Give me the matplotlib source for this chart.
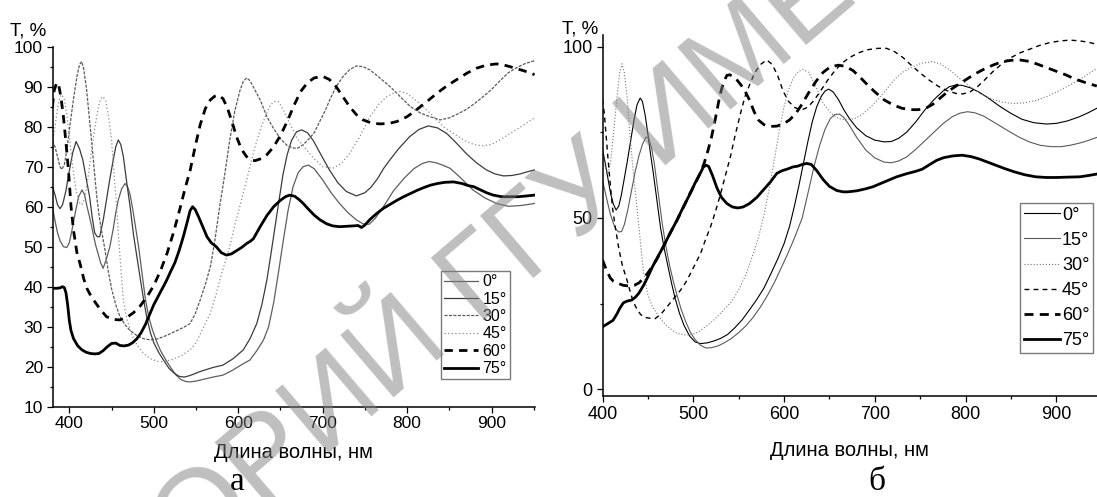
import matplotlib
matplotlib.use("Agg")
import matplotlib.pyplot as plt
from matplotlib.ticker import MultipleLocator, FixedLocator

plt.rcParams['font.family'] = ['Liberation Sans', 'DejaVu Sans']
plt.rcParams['lines.scale_dashes'] = False

# ---------------- data: panel a ----------------
angles = ["0°", "15°", "30°", "45°", "60°", "75°"]

a_0 = [(380,60),(383,56.5),(386,53.5),(389,51.5),(393,50),(397,49.8),(400,51),(403,54),(407,58.5),(411,62.5),
       (415,64.2),(418,63),(421,60),(425,56.5),(428,53.5),(431,50.5),(434,48.3),(437,46),(440,44.6),(444,47),
       (448,50),(452,54.5),(455,58.5),(458,61.7),(462,64.5),(466,65.8),(469,65),(472,63),(475,59.5),(478,55.5),
       (482,50),(486,43.5),(490,37),(494,32.5),(498,29.5),(503,26.5),(508,24),(514,21.8),(520,19.8),(526,18),
       (532,16.8),(538,16.3),(543,16.2),(550,16.4),(560,16.9),(570,17.4),(582,17.9),(594,19.2),(604,20.5),(614,21.7),
       (622,24),(630,26.7),(636,30),(642,36),(648,44),(653,51),(659,59),(665,65),(671,68.5),(677,70),
       (683,70.4),(690,69.5),(700,66.7),(710,63.5),(720,60.8),(730,58.5),(740,56.7),(748,55.7),(755,55.6),(762,57),
       (772,60),(784,64),(796,67),(808,69.5),(818,70.8),(826,71.3),(834,71),(842,70.4),(851,69.6),(862,67.5),
       (878,64.2),(892,62.2),(906,60.8),(920,60.1),(935,60.3),(951,60.8)]

a_15 = [(380,65),(383,63),(386,60.5),(389,59.5),(392,60.5),(396,64),(400,69),(404,73.5),(408,76.3),(412,74.5),
        (416,71.7),(420,67),(424,62.5),(427,57.5),(430,53.5),(433,52.5),(436,52.5),(440,56.5),(444,61.7),(448,67),
        (452,71.7),(455,75),(458,76.7),(461,75.5),(464,72.5),(468,66),(472,60),(476,53),(480,47.5),(484,42),
        (488,36.7),(492,32),(496,28.5),(500,26),(506,23.5),(512,21.5),(518,19.6),(524,18.4),(530,17.6),(536,17.4),
        (543,17.8),(555,18.8),(570,19.8),(582,20.4),(594,22),(606,24.2),(614,27),(622,30.8),(628,35.5),(634,41.7),
        (639,48.5),(644,55.5),(649,62.5),(653,68),(658,73),(663,76.5),(669,78.7),(675,79.2),(682,78.5),(689,76.5),
        (698,73),(708,69.2),(718,66),(728,63.8),(740,62.7),(750,63.5),(757,64.8),(765,67),(772,69.5),(780,71.8),
        (790,74.5),(803,77.5),(814,79.3),(825,80.2),(836,79.7),(847,78.3),(858,76),(870,73.3),(882,71),(894,69.2),
        (904,68.2),(914,67.7),(924,67.8),(934,68.2),(942,68.7),(951,69.2)]

a_30 = [(380,76.5),(383,75),(386,72.5),(389,70),(391,69.3),(394,70.5),(397,74),(401,80.8),(405,87),(409,92.5),
        (412,95.5),(414.6,96.3),(417,94.5),(420.5,89.2),(424,81.5),(427,75),(430,68),(433,61.5),(436,56.7),(439,53),
        (442,49.5),(446,44),(450,39.5),(455,35.5),(460,32.5),(466,30.5),(472,29),(480,27.8),(488,27),(496,26.7),
        (505,27),(515,27.8),(525,28.8),(535,29.8),(543,30.8),(549,33.2),(555,36.7),(561,40.5),(567,45),(572,51),
        (578,60),(584,68),(590,76.7),(596,84),(602,89),(606,91.3),(610,92.2),(614,91.5),(619,89.5),(626,86.7),
        (634,82.5),(642,79.5),(650,77),(658,75.3),(664,74.7),(670,74.6),(677,75.5),(684,77),(690,78.5),(697,81.5),
        (703,84),(709,87),(716,90),(724,92.5),(732,94.3),(740,95.2),(748,95),(756,94.2),(766,92.5),(780,90),
        (792,87.5),(804,85),(816,83.4),(827,82.5),(839,81.7),(850,82.2),(860,83.2),(870,84.3),(880,85.8),(890,87.5),
        (900,89.3),(910,91.5),(920,93.5),(930,94.8),(940,95.8),(951,96.5)]

a_45 = [(380,76),(383,80),(386,84.5),(389,87.5),(391,88),(394,87),(397,83),(400,77.5),(404,70),(408,64),
        (412,61),(415,60.5),(418,62),(422,67),(426,73.5),(430,79.5),(434,84.5),(437,87),(440,87.5),(443,86.5),
        (446,83),(450,76.7),(453,68),(456,60),(458,53.5),(460,47.5),(462,42),(464,36.7),(468,32),(474,28),
        (480,25.5),(488,23.3),(496,22),(505,21.3),(513,21.3),(522,21.8),(533,22.8),(543,24.2),(550,26),(557,29),
        (563,31.7),(567,33.3),(573,37.5),(580,43),(585,46.5),(590,50),(596,55.5),(603,61),(610,66.7),(618,73.5),
        (626,79.2),(632,82.5),(638,85.4),(643,86.3),(648,86.2),(654,84),(661,80.8),(670,77),(681,74.2),(690,72),
        (700,70),(712,69.6),(722,70.8),(732,73.3),(744,77.5),(756,82.5),(766,85.5),(776,87.5),(784,88.4),(792,88.8),
        (800,88.3),(815,85.8),(830,82.8),(843,80),(857,78),(870,76.3),(880,75.5),(890,75.2),(900,75.6),(910,76.7),
        (922,78.3),(935,80),(944,81.3),(951,82.2)]

a_60 = [(380,85),(382,89),(385,91),(387,90.8),(390,87.5),(393,82.5),(396,76),(399,69),(402,60),(405,54),
        (409,48.5),(413,45.5),(417,42),(421,39.5),(426,37.5),(431,36),(436,34.5),(444,32.5),(452,31.8),(460,31.7),
        (468,32.3),(476,33.5),(484,35.2),(492,37.5),(500,40.3),(508,44),(516,48.5),(524,54),(531,59.5),(537,64.5),
        (543,69),(549,75),(555,80.5),(561,84.5),(567,86.7),(572,87.6),(577,87.9),(582,87),(587,84.8),(593,81),
        (598,77.5),(604,74.3),(610,72.5),(615,71.7),(620,71.5),(627,72),(634,73),(642,75),(650,77.8),(658,81.3),
        (666,85.3),(674,88.8),(682,91),(690,92.2),(700,92.6),(708,91.8),(716,90),(724,87.5),(732,85),(740,83),
        (748,81.7),(758,80.9),(768,80.7),(778,80.8),(788,81.3),(800,82.5),(811,84.2),(823,86.2),(835,88.3),(847,90.2),
        (859,91.8),(871,93.4),(882,94.6),(894,95.4),(906,95.7),(915,95.4),(922,95),(930,94.5),(938,94),(945,93.5),
        (951,93)]

a_75 = [(380,39.6),(385,39.6),(389,39.7),(392,40),(394,39.8),(396,38.5),(398,35.5),(400,31.5),(402,29),(405,27),
        (410,25.2),(415,24.2),(420,23.6),(425,23.3),(430,23.2),(435,23.3),(440,24),(445,25),(450,25.8),(455,25.9),
        (460,25.3),(465,25.2),(470,25.4),(475,26),(480,27),(485,28.5),(490,30.5),(495,33),(500,35.5),(505,37.5),
        (510,39.5),(515,41.5),(520,43.8),(525,46),(530,49),(535,52.5),(540,56.5),(543,59),(546,60),(549,59.3),
        (553,57.5),(558,55),(563,52.5),(568,51),(574,50),(580,48.5),(586,47.9),(592,48.2),(598,49),(604,49.8),
        (610,50.8),(614,51.3),(618,52),(622,53.5),(626,55),(634,57.8),(642,60),(650,61.6),(656,62.5),(661,62.9),
        (667,62.6),(672,61.8),(677,60.8),(684,59.2),(690,57.9),(697,56.7),(705,55.7),(712,55.2),(720,55),(728,55.1),
        (736,55.2),(742,55.3),(746,54.8),(750,55.4),(756,56.8),(764,58.3),(772,59.6),(780,60.6),(788,61.6),(796,62.5),
        (804,63.3),(812,64.1),(820,64.8),(828,65.4),(836,65.8),(845,66.1),(855,66.2),(865,65.8),(872,65.3),(879,65),
        (886,64.3),(894,63.5),(902,62.9),(912,62.5),(922,62.5),(932,62.5),(942,62.7),(951,62.9)]

# ---------------- data: panel b ----------------
b_0 = [(400,70),(403,66),(406,61.5),(409,57),(412,54),(415,52.3),(418,53.5),(421,57),(424,61.5),(427,66),
       (431,72.5),(435,79),(438,83),(441.5,85),(444,84),(447,80),(450,74.5),(453,68.5),(456,63),(460,55),
       (464,47),(468,41),(472,36),(476,31),(480,26.5),(485,22),(490,18.5),(496,15.5),(502,13.8),(508,13.3),
       (515,13.5),(522,14),(530,14.8),(538,16),(546,18),(554,20.3),(562,23.2),(570,26.2),(578,29.6),(586,34),
       (593,38),(600,42.5),(606,47.5),(611,53),(616,59),(621,65.5),(626,72),(631,78),(636,82.5),(641,85.5),
       (645,87),(649,87.6),(654,86.8),(660,84.5),(666,81.5),(672,79),(680,76.3),(690,74),(700,72.7),(710,72.2),
       (718,72.3),(726,73.2),(735,75),(745,78),(755,81.5),(765,84.5),(775,87),(782,88.3),(789,88.8),(796,88.7),
       (805,88),(815,86.7),(825,85),(838,82.5),(850,80.5),(862,78.8),(875,77.8),(889,77.4),(900,77.6),(912,78.3),
       (925,79.5),(935,80.7),(944.5,82)]

b_15 = [(400,61),(403,57.5),(406,54),(409,50.8),(412,48.4),(415,46.6),(418,45.9),(421,46),(424,48),(428,52.5),
        (432,58),(436,63.5),(440,68),(444,71.5),(448,73.6),(451,73.2),(454,70.5),(457,66),(460,60),(463,54),
        (466,48),(470,41.5),(474,36),(478,31.5),(482,27.5),(487,23),(492,19.5),(497,16.5),(502,14.5),(508,12.8),
        (514,12),(520,12.1),(527,12.6),(534,13.5),(542,14.8),(550,16.5),(558,18.5),(566,21),(574,24),(582,27.5),
        (590,31.5),(597,35.5),(604,39.5),(612,44.5),(620,50),(627,58),(633,65),(639,71),(645,75.8),(651,79),
        (656,80.2),(661,80.3),(666,79.3),(672,77),(680,73.5),(690,69.8),(700,67.5),(710,66.3),(718,66.1),(726,66.6),
        (735,67.8),(745,70),(755,72.5),(765,75),(775,77.5),(785,79.5),(794,80.6),(802,81),(810,80.7),(820,79.7),
        (832,77.8),(845,75.7),(858,73.7),(870,72.2),(882,71.2),(894,70.8),(905,70.8),(915,71.2),(925,71.8),(935,72.6),
        (944.5,73.5)]

b_30 = [(400,69),(403,65),(406,63),(409,66.5),(413,77),(417,88),(419,92.5),(421.5,95),(424,92.5),(427,85.5),
        (430,75),(434,63),(438,53),(441,45),(445,34.5),(450,27.5),(455,24),(460,22.1),(467,19.5),(474,17.8),
        (482,16.3),(489,15.9),(496,15.8),(505,16.6),(515,18.5),(524,20.5),(533,23),(542,25.5),(550,29),(558,33.5),
        (566,39.5),(572,44.5),(578,51),(584,59),(590,68),(595,76),(600,82.5),(605,87.5),(610,90.8),(616,92.8),
        (621,93.3),(627,92.5),(634,89),(643,83.5),(652,80.5),(660,79),(669,78.6),(678,79),(686,80.2),(694,82),
        (703,84.5),(712,87.3),(722,90.5),(732,92.8),(742,94.2),(752,95.2),(763,95.6),(772,95),(782,93.3),(792,91),
        (804,88.5),(816,86.3),(828,84.8),(840,83.8),(853,83.4),(865,83.6),(878,84.3),(890,85.5),(902,87),(914,88.7),
        (926,90.4),(936,92.2),(944.5,93.6)]

b_45 = [(400,84.5),(402,80.5),(404,74),(406,67.5),(408.5,60),(411,53),(414,47.4),(418,41),(422,36),(427,31.8),
        (431,28),(434,25.5),(438,23.3),(442,21.8),(446,21),(452,20.7),(458,20.6),(464,21.8),(471,24),(478,26.3),
        (486,28.9),(492,31.3),(497,33.8),(503,37),(508,39.6),(513,43.3),(519,47.4),(524,51.5),(529,56),(533,60),
        (537,64),(541,68),(546,74),(552,80.5),(557,85.5),(563,89.5),(568,92.5),(574,94.8),(581,96.1),(587,94.8),
        (593,91.5),(599,87),(605,84),(612,82.2),(619,81.5),(626,82.3),(633,84.3),(640,87),(648,90.2),(656,93),
        (664,95.2),(672,96.8),(682,98.2),(692,99.1),(703,99.5),(713,99.5),(722,98.5),(731,96.8),(740,94.6),(750,92.3),
        (760,90.2),(770,88.4),(780,87.1),(790,86.3),(797,86.2),(805,86.8),(813,88.3),(821,90.3),(830,92.7),(840,95),
        (850,96.8),(860,98.2),(871,99.3),(882,100.4),(893,101.2),(905,101.7),(915,101.9),(925,101.7),(935,101.3),(944.5,100.7)]

b_60 = [(400,37.7),(404,35),(408.5,32.5),(412,31.5),(416,31),(423,30.3),(430,30.1),(435,30.3),(440,31),(446,32.5),
        (452,34.7),(460,38),(467,41.6),(474,45.3),(482,49.3),(489,53),(496,57),(502,60),(507.6,63),(512,66),
        (516,69.5),(520,73.5),(524,78.5),(528,84),(531,87.5),(534,90),(537,91.6),(540,91.8),(544,91.3),(548,90.3),
        (552,89),(556,87.5),(562,84.4),(567,81),(572,78.5),(578,77.2),(585,76.7),(592,76.8),(599,77.4),(606,78.6),
        (613,80.5),(620,83.3),(627,86.5),(635,89.8),(643,92.5),(651,94.1),(660,94.6),(668,94.2),(676,93),(684,91),
        (692,88.8),(700,86.8),(710,84.5),(720,83),(730,82),(740,81.6),(748,81.6),(756,82),(764,83.2),(772,85),
        (780,86.8),(790,88.6),(800,90.3),(810,92),(820,93.4),(830,94.6),(840,95.6),(850,96),(860,96.1),(870,95.7),
        (880,94.8),(890,93.8),(900,92.8),(910,91.8),(920,90.6),(932,89.5),(944.5,88.5)]

b_75 = [(400,18.2),(405,19),(411.6,20.1),(416,22),(419,23.6),(423,25.2),(427,25.7),(432,26),(436,26.8),(440,28),
        (445,30.2),(450,32.8),(455,35.7),(461,38.7),(467,41.6),(474,45.3),(482,49.3),(489,53.2),(496.6,57.1),(502,60.2),
        (507.6,63),(511,64.8),(514,65.4),(517,65),(521,62.5),(526,58.8),(531,56),(537,54.2),(543,53.2),(549,52.9),
        (555,53.2),(562,54.2),(570,56),(577,58.1),(585,60.5),(592,63),(598,63.8),(604,64.3),(610,64.9),(615,65.1),
        (620,65.6),(625,65.9),(630,65.6),(636,63.8),(643,61.2),(650,59.2),(658,58),(665,57.6),(670,57.6),(680,57.9),
        (690,58.5),(698,59.1),(706,60),(715,61),(724,62),(735,62.9),(745,63.6),(752,64.2),(760,65.5),(768,66.8),
        (776,67.6),(786,68.1),(796,68.3),(806,67.9),(815,67.2),(823,66.4),(833,65.4),(843,64.4),(853,63.5),(865,62.6),
        (877,62),(889,61.8),(900,61.8),(912,61.9),(926,62),(936,62.4),(944.5,62.8)]

x_ticks = [400, 500, 600, 700, 800, 900]
a_y_ticks = [10, 20, 30, 40, 50, 60, 70, 80, 90, 100]
b_y_ticks = [0, 50, 100]

# ---------------- styles ----------------
a_styles = [
    dict(color='#5e5e5e', lw=0.9, ls='-'),
    dict(color='#3c3c3c', lw=0.9, ls='-'),
    dict(color='#5a5a5a', lw=0.9, ls=(0, (2.2, 1.0))),
    dict(color='#8c8c8c', lw=0.9, ls=(0, (0.9, 1.7))),
    dict(color='black', lw=2.0, ls=(0, (6.0, 4.5))),
    dict(color='black', lw=2.0, ls='-'),
]
b_styles = [
    dict(color='black', lw=0.8, ls='-'),
    dict(color='#5a5a5a', lw=0.8, ls='-'),
    dict(color='#777777', lw=0.8, ls=(0, (0.8, 1.4))),
    dict(color='black', lw=1.0, ls=(0, (3.5, 3.0))),
    dict(color='black', lw=2.0, ls=(0, (6.5, 4.5))),
    dict(color='black', lw=2.0, ls='-'),
]

W, H = 1097, 497
fig = plt.figure(figsize=(W / 100, H / 100), dpi=100)
fig.patch.set_facecolor('white')

def px_rect(x0, y0, x1, y1):
    return [x0 / W, 1 - y1 / H, (x1 - x0) / W, (y1 - y0) / H]

axA = fig.add_axes(px_rect(52.7, 46.7, 535, 406.7))
axB = fig.add_axes(px_rect(602.5, 35, 1097, 396))

def style_axes(ax, xlim, ylim, yticks, yminor, fs):
    ax.set_xlim(*xlim)
    ax.set_ylim(*ylim)
    for s in ['top', 'right']:
        ax.spines[s].set_visible(False)
    for s in ['left', 'bottom']:
        ax.spines[s].set_linewidth(1.1)
    ax.xaxis.set_major_locator(FixedLocator(x_ticks))
    ax.xaxis.set_minor_locator(FixedLocator([450, 550, 650, 750, 850, 950]))
    ax.yaxis.set_major_locator(FixedLocator(yticks))
    ax.yaxis.set_minor_locator(MultipleLocator(yminor))
    ax.tick_params(which='major', direction='out', length=4, width=0.9, labelsize=fs, pad=3)
    ax.tick_params(which='minor', direction='out', length=2.5, width=0.9)
    ax.patch.set_alpha(0)

a_series = [a_0, a_15, a_30, a_45, a_60, a_75]
b_series = [b_0, b_15, b_30, b_45, b_60, b_75]

a_lines = []
for data, st, lab in zip(a_series, a_styles, angles):
    xs = [p[0] for p in data]
    ys = [p[1] for p in data]
    ln, = axA.plot(xs, ys, color=st['color'], lw=st['lw'], ls=st['ls'], label=lab,
                   solid_joinstyle='round', dash_capstyle='butt')
    a_lines.append(ln)

b_lines = []
for data, st, lab in zip(b_series, b_styles, angles):
    xs = [p[0] for p in data]
    ys = [p[1] for p in data]
    ln, = axB.plot(xs, ys, color=st['color'], lw=st['lw'], ls=st['ls'], label=lab,
                   solid_joinstyle='round', dash_capstyle='butt')
    b_lines.append(ln)

style_axes(axA, (380.3, 951.5), (10, 100), a_y_ticks, 5, 12.5)
style_axes(axB, (400, 944.7), (-2.0, 103.4), b_y_ticks, 25, 13)

legA = axA.legend(handles=a_lines, loc='upper left',
                  bbox_to_anchor=(441 / W, 1 - 271 / H), bbox_transform=fig.transFigure,
                  borderaxespad=0, fontsize=11.5, labelspacing=0.15, handlelength=2.1,
                  handletextpad=0.3, borderpad=0.2, fancybox=False, framealpha=1)
legA.get_frame().set_edgecolor('#7a7a7a')
legA.get_frame().set_linewidth(1.0)

legB = axB.legend(handles=b_lines, loc='upper left',
                  bbox_to_anchor=(1020 / W, 1 - 203 / H), bbox_transform=fig.transFigure,
                  borderaxespad=0, fontsize=13, labelspacing=0.45, handlelength=2.0,
                  handletextpad=0.12, borderpad=0.2, fancybox=False, framealpha=1)
legB.get_frame().set_edgecolor('#7a7a7a')
legB.get_frame().set_linewidth(1.0)

# axis titles
fig.text(10.5 / W, 1 - 36 / H, 'T, %', fontsize=13.5, ha='left', va='baseline')
fig.text(562 / W, 1 - 33 / H, 'T, %', fontsize=13.5, ha='left', va='baseline')
fig.text(293.9 / W, 1 - 458 / H, 'Длина волны, нм', fontsize=14.5, ha='center', va='baseline')
fig.text(849.8 / W, 1 - 456 / H, 'Длина волны, нм', fontsize=14.5, ha='center', va='baseline')
fig.text(237 / W, 1 - 490 / H, 'а', fontsize=24, ha='center', va='baseline',
         family=['Liberation Serif', 'DejaVu Serif'])
fig.text(877 / W, 1 - 490 / H, 'б', fontsize=24, ha='center', va='baseline',
         family=['Liberation Serif', 'DejaVu Serif'])

# watermark (runs off the picture at both ends, as in the source page)
fig.text(190.8 / W, 1 - 571.1 / H, 'ОРИЙ ГГУ ИМЕНИ Ф. СКОРИНЫ', fontsize=86, rotation=40.5,
         rotation_mode='anchor', ha='left', va='baseline', color='#808080', alpha=0.5,
         zorder=10)

fig.savefig('out.png', dpi=100, facecolor='white')
